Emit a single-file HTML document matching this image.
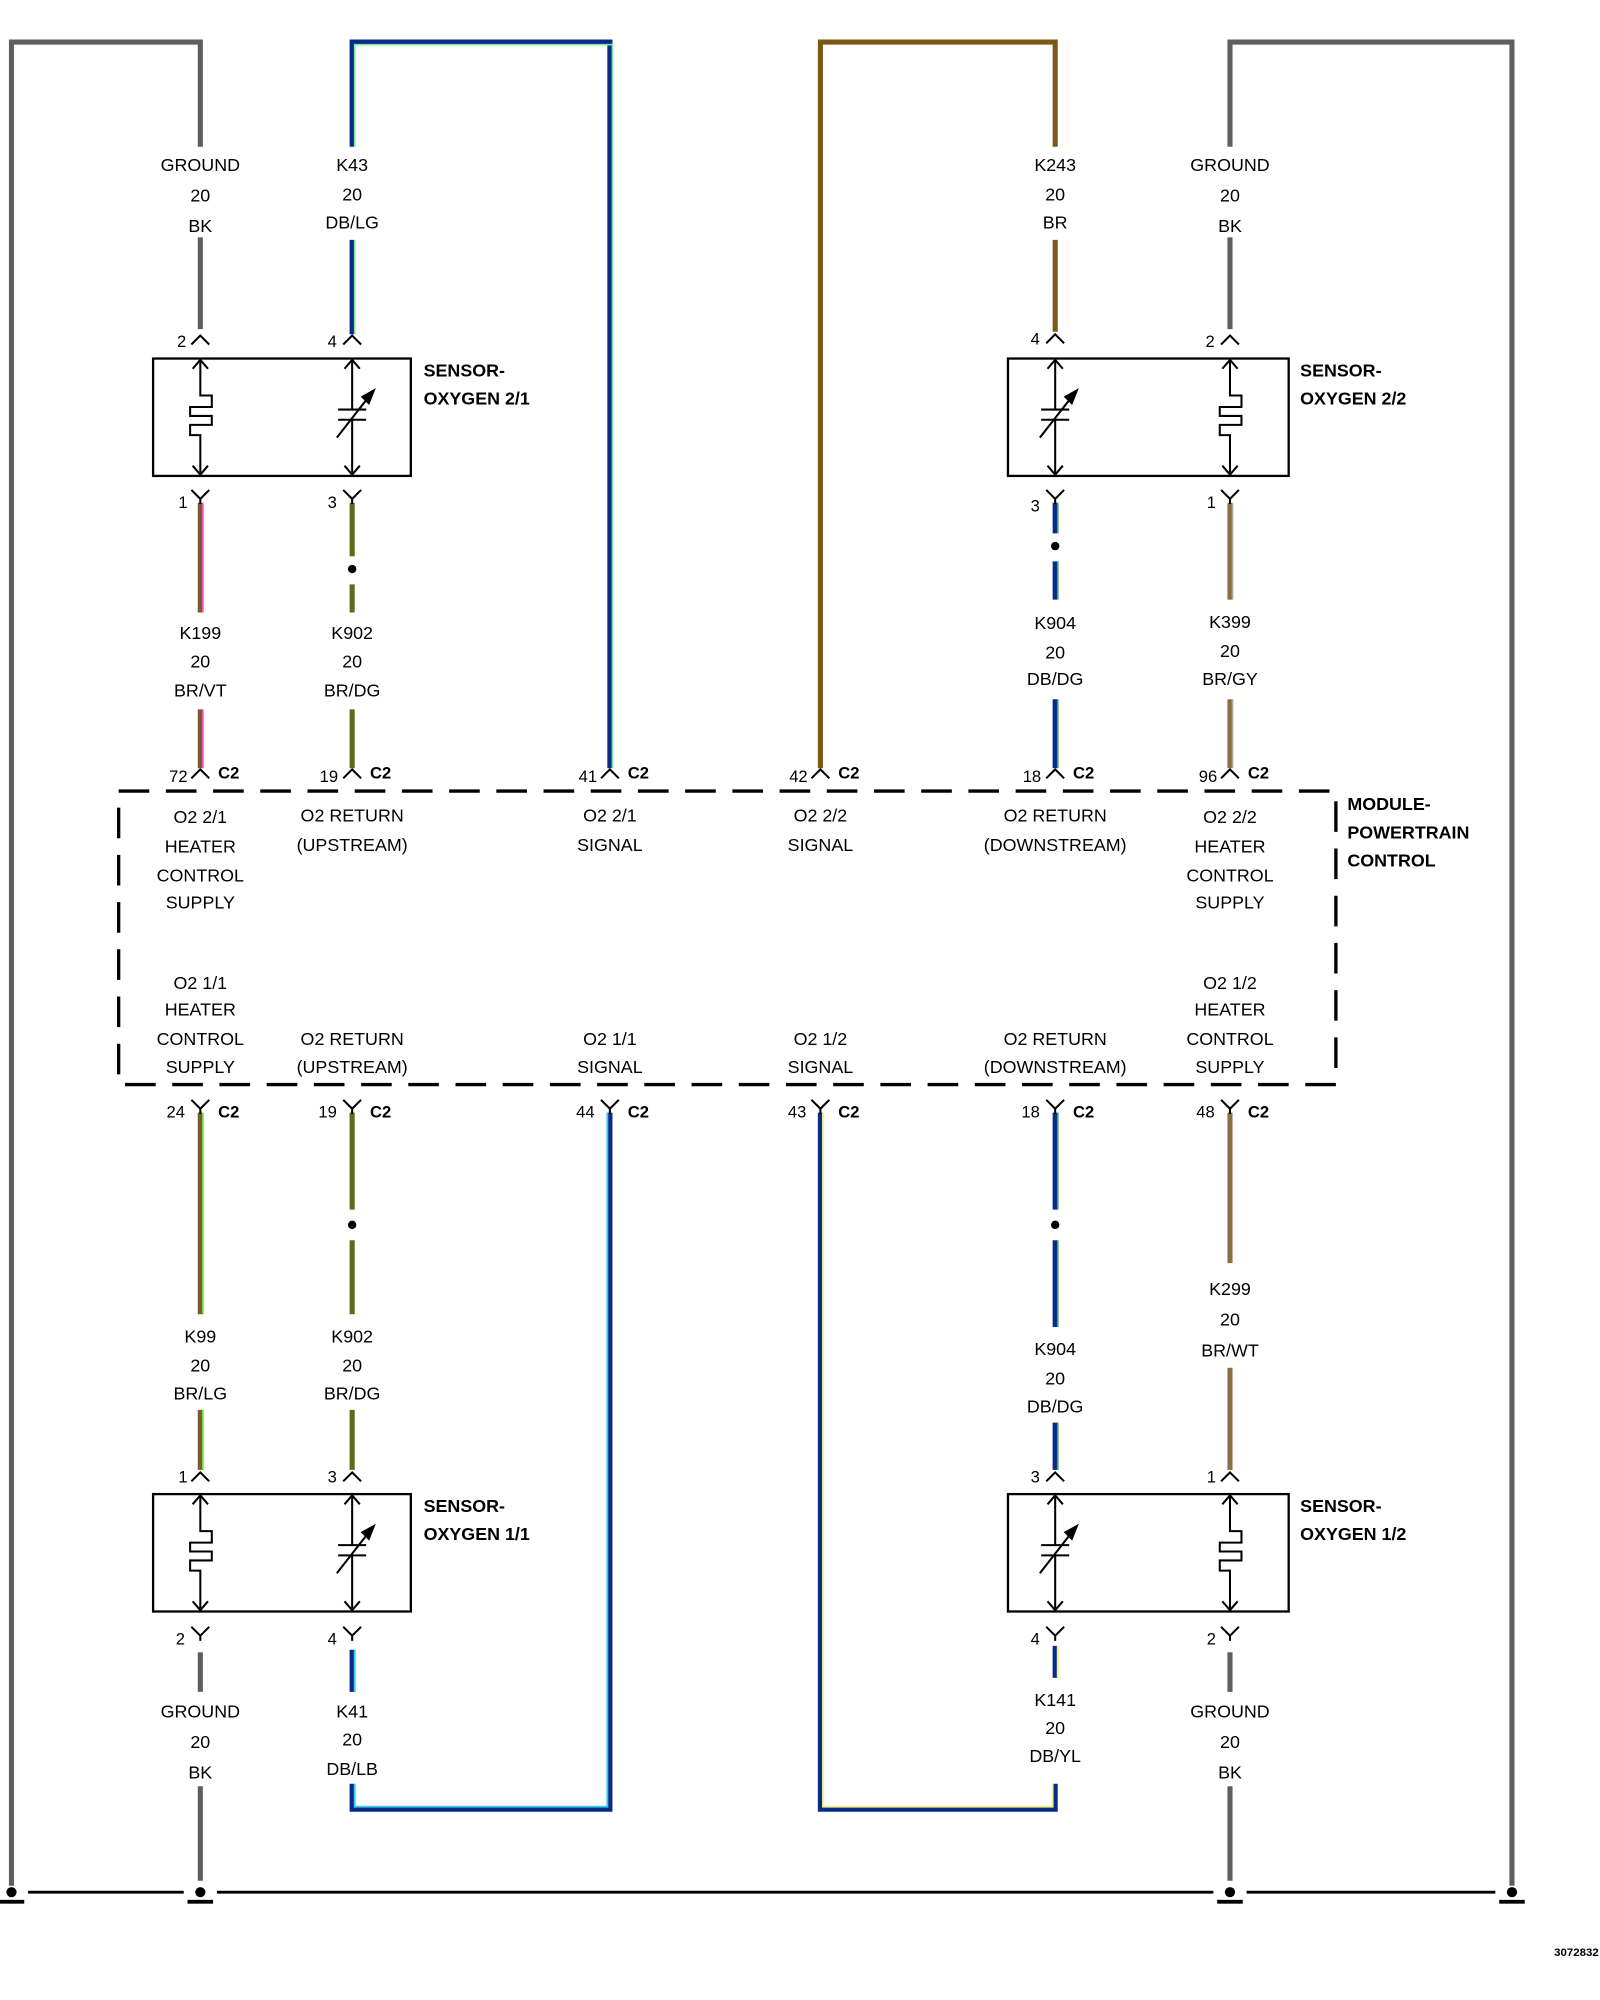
<!DOCTYPE html>
<html><head><meta charset="utf-8"><style>
html,body{margin:0;padding:0;background:#fff;}
svg{display:block}
text{font-family:"Liberation Sans",Arial,sans-serif;font-size:14px;fill:#000;text-anchor:middle}
.b text{font-weight:bold;text-anchor:start}
.s text{font-size:13px}
text.l{text-anchor:end}
</style></head><body>
<svg width="1600" height="2000" viewBox="0 0 1254 1567.5" preserveAspectRatio="none" xmlns="http://www.w3.org/2000/svg">
<defs>
<g id="heat" fill="none" stroke="#000" stroke-width="1.6">
<path d="M0,1 V29 H9 V38 H-8 V45 H9 V52 H-8 V60 H0 V91"/>
<path d="M-6,8 L0,1 L6,8 M-6,84 L0,91 L6,84"/>
</g>
<g id="cap" fill="none" stroke="#000" stroke-width="1.6">
<path d="M0,1 V40 M0,48 V91 M-11,40 H11 M-11,48 H11 M-12,62 L13,30"/>
<path d="M-6,8 L0,1 L6,8 M-6,84 L0,91 L6,84"/>
<path d="M17,25 L8,30 L13,35 Z" fill="#000"/>
</g>
<path id="up" d="M-7,6 L0,-1 L7,6" fill="none" stroke="#000" stroke-width="1.6"/>
<path id="dn" d="M-7,-7 L0,0 L7,-7 M0,0 V4" fill="none" stroke="#000" stroke-width="1.6"/>
<g id="gnd"><circle cx="0" cy="0" r="4" fill="#000"/><rect x="-10" y="6" width="20" height="3" fill="#000"/></g>
</defs>

<g fill="none" stroke="#5e5e5e" stroke-width="4">
<path d="M9,1478 V33 H157 V115"/><path d="M157,186 V258"/>
<path d="M157,1295 V1326"/><path d="M157,1400 V1474"/>
<path d="M1185,1478 V33 H964 V115"/><path d="M964,186 V258"/>
<path d="M964,1295 V1326"/><path d="M964,1400 V1474"/>
</g>

<g fill="none">
<path d="M276,262 V188 M276,115 V33 H478 V602" stroke="#0a2a8a" stroke-width="4"/>
<path d="M278,262 V188 M278,115 V35 H480 V602" stroke="#7dea9a" stroke-width="1.3"/>
</g>
<path d="M643,602 V33 H827 V115 M827,188 V260" fill="none" stroke="#7a5a12" stroke-width="4"/>

<g fill="none" stroke-width="4">
<path d="M157,394 V480 M157,556 V602" stroke="#7a5a32"/>
<path d="M159,394 V480 M159,556 V602" stroke="#ff4fbf" stroke-width="1.3"/>
<path d="M276,394 V436 M276,458 V480 M276,556 V602" stroke="#5f6a1a"/>
<path d="M827,394 V418 M827,440 V470 M827,548 V602" stroke="#0a2a8a"/>
<path d="M829,394 V418 M829,440 V470 M829,548 V602" stroke="#2fa070" stroke-width="1.3"/>
<path d="M964,394 V470 M964,548 V602" stroke="#8a7040"/>
<path d="M966,394 V470 M966,548 V602" stroke="#b0a890" stroke-width="1.3"/>
<path d="M157,872 V1030 M157,1105 V1152" stroke="#7a5a32"/>
<path d="M159,872 V1030 M159,1105 V1152" stroke="#6fe030" stroke-width="1.3"/>
<path d="M276,872 V948 M276,972 V1030 M276,1105 V1152" stroke="#5f6a1a"/>
<path d="M478,872 V1418 H276 V1398 M276,1326 V1293" stroke="#0a2a8a"/>
<path d="M476,872 V1416 H278 V1398 M278,1326 V1293" stroke="#3ac8f0" stroke-width="1.5"/>
<path d="M643,872 V1418 H827 V1398 M827,1315 V1290" stroke="#0a2a8a"/>
<path d="M645,872 V1416 H825 V1398 M829,1315 V1290" stroke="#f0f080" stroke-width="1.5"/>
<path d="M827,872 V948 M827,972 V1040 M827,1115 V1152" stroke="#0a2a8a"/>
<path d="M829,872 V948 M829,972 V1040 M829,1115 V1152" stroke="#2fa070" stroke-width="1.3"/>
<path d="M964,872 V990 M964,1072 V1152" stroke="#8a7040"/>
</g>
<g fill="#000"><circle cx="276" cy="446" r="3.3"/><circle cx="827" cy="428" r="3.3"/><circle cx="276" cy="960" r="3.3"/><circle cx="827" cy="960" r="3.3"/></g>

<g fill="none" stroke="#000" stroke-width="1.8">
<rect x="120" y="281" width="202" height="92"/>
<rect x="790" y="281" width="220" height="92"/>
<rect x="120" y="1171" width="202" height="92"/>
<rect x="790" y="1171" width="220" height="92"/>
</g>
<use href="#heat" x="157" y="281"/><use href="#cap" x="276" y="281"/>
<use href="#cap" x="827" y="281"/><use href="#heat" x="964" y="281"/>
<use href="#heat" x="157" y="1171"/><use href="#cap" x="276" y="1171"/>
<use href="#cap" x="827" y="1171"/><use href="#heat" x="964" y="1171"/>

<use href="#up" x="157" y="264"/><use href="#up" x="276" y="264"/><use href="#up" x="827" y="263"/><use href="#up" x="964" y="264"/>
<use href="#dn" x="157" y="391"/><use href="#dn" x="276" y="391"/><use href="#dn" x="827" y="391"/><use href="#dn" x="964" y="391"/>
<use href="#up" x="157" y="604"/><use href="#up" x="276" y="604"/><use href="#up" x="478" y="604"/><use href="#up" x="643" y="604"/><use href="#up" x="827" y="604"/><use href="#up" x="964" y="604"/>
<use href="#dn" x="157" y="869"/><use href="#dn" x="276" y="869"/><use href="#dn" x="478" y="869"/><use href="#dn" x="643" y="869"/><use href="#dn" x="827" y="869"/><use href="#dn" x="964" y="869"/>
<use href="#up" x="157" y="1155"/><use href="#up" x="276" y="1155"/><use href="#up" x="827" y="1155"/><use href="#up" x="964" y="1155"/>
<use href="#dn" x="157" y="1282"/><use href="#dn" x="276" y="1282"/><use href="#dn" x="827" y="1282"/><use href="#dn" x="964" y="1282"/>

<rect x="93" y="620" width="954" height="230" fill="none" stroke="#000" stroke-width="2.6" stroke-dasharray="24,13"/>

<g stroke="#000" stroke-width="2.2"><path d="M22,1483 H144 M170,1483 H951 M977,1483 H1172"/></g>
<use href="#gnd" x="9" y="1483"/><use href="#gnd" x="157" y="1483"/><use href="#gnd" x="964" y="1483"/><use href="#gnd" x="1185" y="1483"/>

<g class="s">
<text class="l" x="146" y="272">2</text><text class="l" x="264" y="272">4</text>
<text class="l" x="815" y="270">4</text><text class="l" x="952" y="272">2</text>
<text class="l" x="147" y="398">1</text><text class="l" x="264" y="398">3</text>
<text class="l" x="815" y="401">3</text><text class="l" x="953" y="398">1</text>
<text class="l" x="147" y="1162">1</text><text class="l" x="264" y="1162">3</text>
<text class="l" x="815" y="1162">3</text><text class="l" x="953" y="1162">1</text>
<text class="l" x="145" y="1289">2</text><text class="l" x="264" y="1289">4</text>
<text class="l" x="815" y="1289">4</text><text class="l" x="953" y="1289">2</text>
<text class="l" x="147" y="613">72</text><text class="l" x="265" y="613">19</text><text class="l" x="468" y="613">41</text><text class="l" x="633" y="613">42</text><text class="l" x="816" y="613">18</text><text class="l" x="954" y="613">96</text>
<text class="l" x="145" y="876">24</text><text class="l" x="264" y="876">19</text><text class="l" x="466" y="876">44</text><text class="l" x="632" y="876">43</text><text class="l" x="815" y="876">18</text><text class="l" x="952" y="876">48</text>
</g>
<g class="b s">
<text x="171" y="610">C2</text><text x="290" y="610">C2</text><text x="492" y="610">C2</text><text x="657" y="610">C2</text><text x="841" y="610">C2</text><text x="978" y="610">C2</text>
<text x="171" y="876">C2</text><text x="290" y="876">C2</text><text x="492" y="876">C2</text><text x="657" y="876">C2</text><text x="841" y="876">C2</text><text x="978" y="876">C2</text>
</g>

<g>
<text x="157" y="134">GROUND</text><text x="157" y="158">20</text><text x="157" y="182">BK</text>
<text x="276" y="134">K43</text><text x="276" y="157">20</text><text x="276" y="179">DB/LG</text>
<text x="827" y="134">K243</text><text x="827" y="157">20</text><text x="827" y="179">BR</text>
<text x="964" y="134">GROUND</text><text x="964" y="158">20</text><text x="964" y="182">BK</text>
<text x="157" y="501">K199</text><text x="157" y="523">20</text><text x="157" y="546">BR/VT</text>
<text x="276" y="501">K902</text><text x="276" y="523">20</text><text x="276" y="546">BR/DG</text>
<text x="827" y="493">K904</text><text x="827" y="516">20</text><text x="827" y="537">DB/DG</text>
<text x="964" y="492">K399</text><text x="964" y="515">20</text><text x="964" y="537">BR/GY</text>
<text x="157" y="1052">K99</text><text x="157" y="1075">20</text><text x="157" y="1097">BR/LG</text>
<text x="276" y="1052">K902</text><text x="276" y="1075">20</text><text x="276" y="1097">BR/DG</text>
<text x="827" y="1062">K904</text><text x="827" y="1085">20</text><text x="827" y="1107">DB/DG</text>
<text x="964" y="1015">K299</text><text x="964" y="1039">20</text><text x="964" y="1063">BR/WT</text>
<text x="157" y="1346">GROUND</text><text x="157" y="1370">20</text><text x="157" y="1394">BK</text>
<text x="276" y="1346">K41</text><text x="276" y="1368">20</text><text x="276" y="1391">DB/LB</text>
<text x="827" y="1337">K141</text><text x="827" y="1359">20</text><text x="827" y="1381">DB/YL</text>
<text x="964" y="1346">GROUND</text><text x="964" y="1370">20</text><text x="964" y="1394">BK</text>
</g>

<g>
<text x="157" y="645">O2 2/1</text><text x="157" y="668">HEATER</text><text x="157" y="691">CONTROL</text><text x="157" y="712">SUPPLY</text>
<text x="276" y="644">O2 RETURN</text><text x="276" y="667">(UPSTREAM)</text>
<text x="478" y="644">O2 2/1</text><text x="478" y="667">SIGNAL</text>
<text x="643" y="644">O2 2/2</text><text x="643" y="667">SIGNAL</text>
<text x="827" y="644">O2 RETURN</text><text x="827" y="667">(DOWNSTREAM)</text>
<text x="964" y="645">O2 2/2</text><text x="964" y="668">HEATER</text><text x="964" y="691">CONTROL</text><text x="964" y="712">SUPPLY</text>
<text x="157" y="775">O2 1/1</text><text x="157" y="796">HEATER</text><text x="157" y="819">CONTROL</text><text x="157" y="841">SUPPLY</text>
<text x="276" y="819">O2 RETURN</text><text x="276" y="841">(UPSTREAM)</text>
<text x="478" y="819">O2 1/1</text><text x="478" y="841">SIGNAL</text>
<text x="643" y="819">O2 1/2</text><text x="643" y="841">SIGNAL</text>
<text x="827" y="819">O2 RETURN</text><text x="827" y="841">(DOWNSTREAM)</text>
<text x="964" y="775">O2 1/2</text><text x="964" y="796">HEATER</text><text x="964" y="819">CONTROL</text><text x="964" y="841">SUPPLY</text>
</g>
<g class="b">
<text x="332" y="295">SENSOR-</text><text x="332" y="317">OXYGEN 2/1</text>
<text x="1019" y="295">SENSOR-</text><text x="1019" y="317">OXYGEN 2/2</text>
<text x="332" y="1185">SENSOR-</text><text x="332" y="1207">OXYGEN 1/1</text>
<text x="1019" y="1185">SENSOR-</text><text x="1019" y="1207">OXYGEN 1/2</text>
<text x="1056" y="635">MODULE-</text><text x="1056" y="657">POWERTRAIN</text><text x="1056" y="679">CONTROL</text>
<text x="1218" y="1533" style="font-size:9px">3072832</text>
</g>
</svg>
</body></html>
